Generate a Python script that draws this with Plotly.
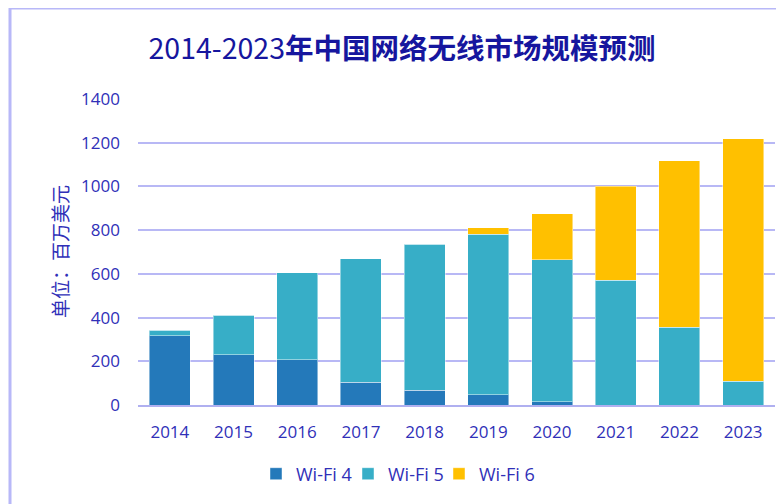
import plotly.graph_objects as go

years = ["2014", "2015", "2016", "2017", "2018", "2019", "2020", "2021", "2022", "2023"]
wifi4 = [316, 230, 207, 105, 68, 46, 15, 0, 0, 0]
wifi5 = [26, 180, 398, 564, 667, 735, 650, 571, 356, 108]
wifi6 = [0, 0, 0, 0, 0, 30, 209, 429, 762, 1111]
series_names = ["Wi-Fi 4", "Wi-Fi 5", "Wi-Fi 6"]
colors = ["#2479BA", "#37AEC7", "#FFC000"]

title_text = "2014-2023<b>年中国网络无线市场规模预测</b>"
y_title = "单位：百万美元"
y_ticks = [0, 200, 400, 600, 800, 1000, 1200, 1400]

text_color = "#3030B8"
grid_color = "#B8B8F5"
font_family = "Open Sans, Noto Sans CJK SC, sans-serif"

legend_ids = ["legend", "legend2", "legend3"]

fig = go.Figure()
for name, vals, col, lg in zip(series_names, [wifi4, wifi5, wifi6], colors, legend_ids):
    fig.add_trace(go.Bar(
        x=years, y=vals, name=name, legend=lg,
        marker=dict(color=col, line=dict(color="rgba(255,255,255,0.45)", width=1)),
    ))

# page body has an 8px margin; figure is sized to fill the rest of the window
OFF = 8
W, H = 784 - OFF, 504 - OFF
ml, mr, mt, mb = 138 - OFF, 9, 99 - OFF, 99
pw = W - ml - mr
ph = H - mt - mb

def px_x(px):
    return (px - OFF - ml) / pw

def px_y(py):
    return (H - mb - (py - OFF)) / ph

def legend_box(text_left_px):
    return dict(
        orientation="h",
        x=px_x(text_left_px - 40), xanchor="left",
        y=px_y(474), yanchor="middle",
        font=dict(size=18, color=text_color),
        itemwidth=30,
        bgcolor="rgba(0,0,0,0)",
    )

fig.update_layout(
    width=W, height=H,
    margin=dict(l=ml, r=mr, t=mt, b=mb, autoexpand=False),
    barmode="stack",
    bargap=0.356,
    plot_bgcolor="white",
    paper_bgcolor="white",
    font=dict(family=font_family, color=text_color, size=17),
    title=dict(
        text=title_text,
        font=dict(family="Noto Sans CJK SC, sans-serif", size=28.5, color="#16169E"),
        x=(402 - OFF) / W, xanchor="center",
        y=1 - (49 - OFF) / H, yanchor="middle",
    ),
    xaxis=dict(
        showgrid=False,
        showline=True, linecolor="#B0B0F0", linewidth=2,
        tickfont=dict(size=17, color=text_color),
        ticks="", ticklabelstandoff=11,
        fixedrange=True,
    ),
    yaxis=dict(
        range=[0, 1400],
        tickvals=y_ticks,
        showgrid=True, gridcolor=grid_color, gridwidth=2,
        zeroline=False,
        showline=False,
        tickfont=dict(size=17, color=text_color),
        ticks="", ticklabelstandoff=17,
        fixedrange=True,
    ),
    legend=legend_box(296),
    legend2=legend_box(388),
    legend3=legend_box(479),
    showlegend=True,
)

fig.add_annotation(
    text=y_title, textangle=-90,
    xref="paper", yref="paper",
    x=px_x(59), y=0.5, xanchor="center", yanchor="middle",
    showarrow=False,
    font=dict(family="Noto Sans CJK SC, sans-serif", size=19, color=text_color),
)

# outer frame on left and top
fig.add_shape(
    type="path",
    xref="paper", yref="paper",
    path=f"M {px_x(10)} {px_y(520)} L {px_x(10)} {px_y(8)} L {px_x(800)} {px_y(8)}",
    line=dict(color="#B8B8F8", width=3),
    layer="above",
)

fig.write_html("out.html")
